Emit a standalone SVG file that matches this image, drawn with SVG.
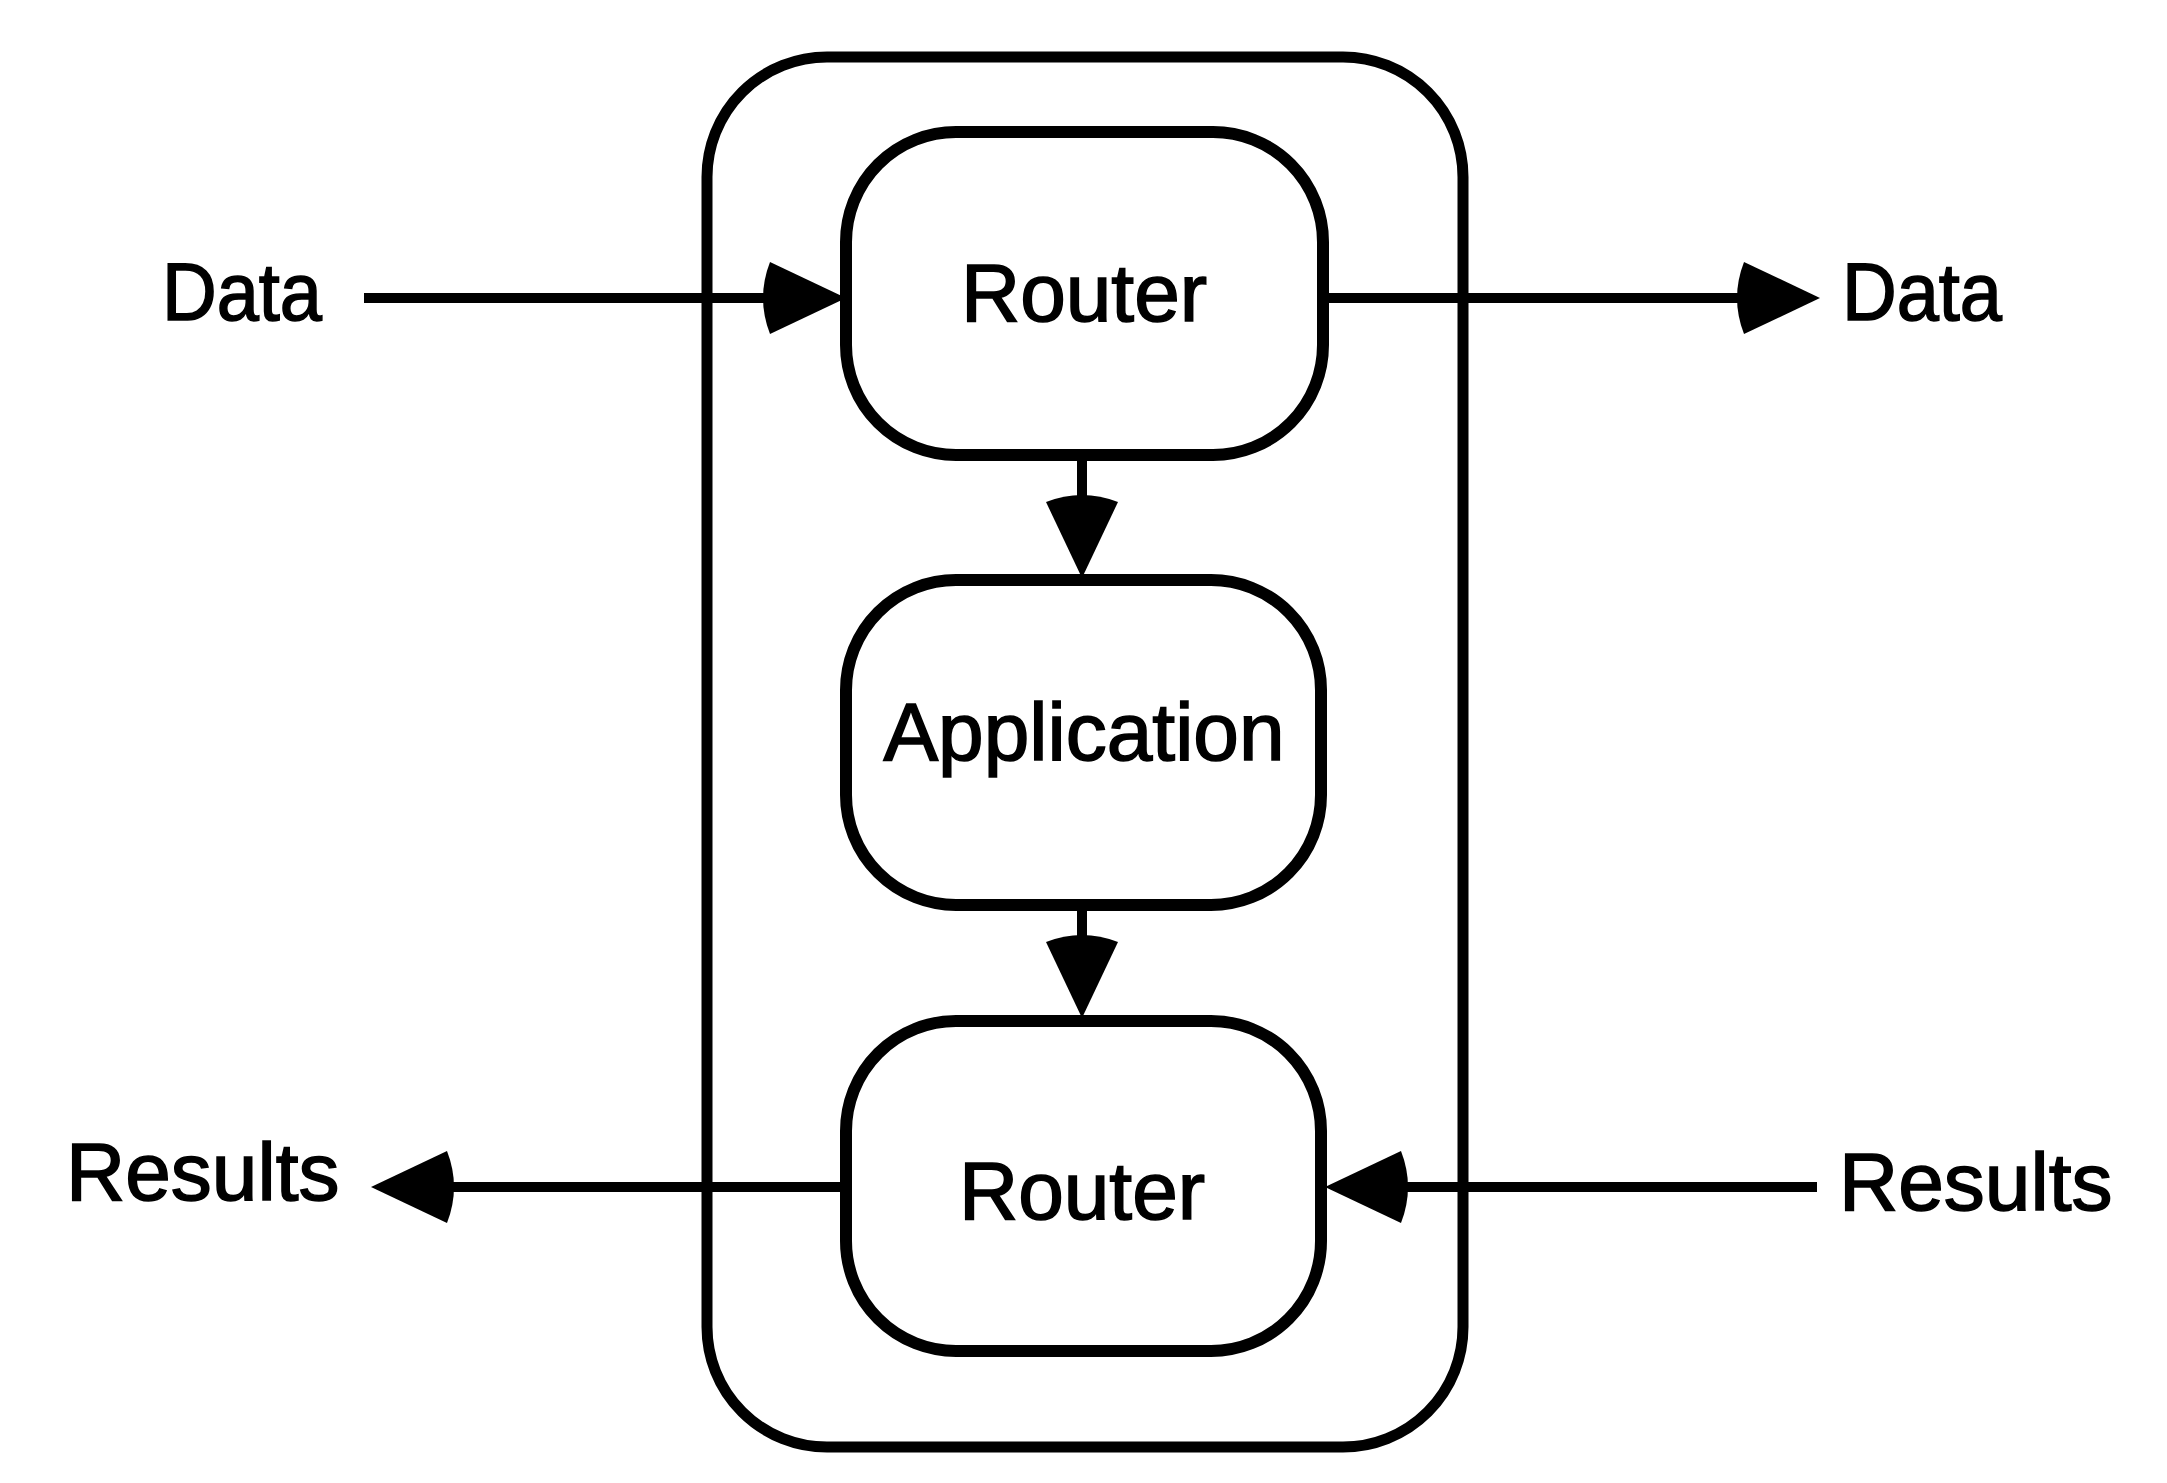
<svg xmlns="http://www.w3.org/2000/svg" width="2167" height="1483" viewBox="0 0 2167 1483">
<style>
.box{fill:#fff;stroke:#000;stroke-width:12}
.frame{fill:none;stroke:#000;stroke-width:11}
.conn{fill:none;stroke:#000;stroke-width:10}
.lbl{font-family:"Liberation Sans",Arial,Helvetica,sans-serif;font-size:82px;fill:#000;stroke:#000;stroke-width:1.6}
</style>
<defs>
<marker id="ah" markerUnits="userSpaceOnUse" orient="auto" overflow="visible" refX="0" refY="0" markerWidth="1" markerHeight="1">
<path d="M20,0 L-56,-36 Q-70,0 -56,36 Z" fill="#000"/>
</marker>
</defs>
<rect id="frame" class="frame" x="707" y="57" width="756" height="1390" rx="120" ry="120"/>
<g id="connectors">
<line class="conn" x1="364" y1="298" x2="826" y2="298" marker-end="url(#ah)"/>
<line class="conn" x1="1324" y1="298" x2="1800" y2="298" marker-end="url(#ah)"/>
<line class="conn" x1="1082" y1="455" x2="1082" y2="558" marker-end="url(#ah)"/>
<line class="conn" x1="1082" y1="905" x2="1082" y2="998" marker-end="url(#ah)"/>
<line class="conn" x1="1817" y1="1187" x2="1345" y2="1187" marker-end="url(#ah)"/>
<line class="conn" x1="846" y1="1187" x2="391" y2="1187" marker-end="url(#ah)"/>
</g>
<g id="router1">
<rect class="box" x="846" y="132" width="477" height="323" rx="110" ry="110"/>
<text class="lbl" x="1084" y="321" text-anchor="middle">Router</text>
</g>
<g id="application">
<rect class="box" x="846" y="580" width="475" height="325" rx="110" ry="110"/>
<text class="lbl" x="1084" y="760" text-anchor="middle">Application</text>
</g>
<g id="router2">
<rect class="box" x="846" y="1021" width="475" height="330" rx="110" ry="110"/>
<text class="lbl" x="1082" y="1219" text-anchor="middle">Router</text>
</g>
<g id="data-in"><text class="lbl" x="162" y="320" textLength="160" lengthAdjust="spacingAndGlyphs">Data</text></g>
<g id="data-out"><text class="lbl" x="1842" y="320" textLength="160" lengthAdjust="spacingAndGlyphs">Data</text></g>
<g id="results-out"><text class="lbl" x="66" y="1200">Results</text></g>
<g id="results-in"><text class="lbl" x="1839" y="1210">Results</text></g>
</svg>
